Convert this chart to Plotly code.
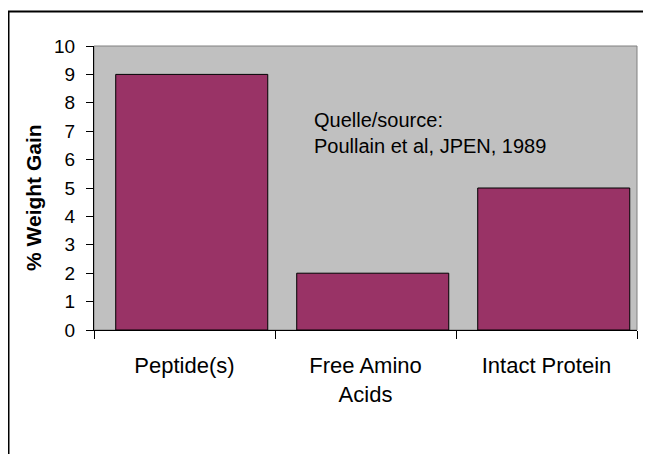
import plotly.graph_objects as go

categories = ["Peptide(s)", "Free Amino Acids", "Intact Protein"]
tick_labels = ["Peptide(s)", "Free Amino<br>Acids", "Intact Protein"]
weight_gain = [9, 2, 5]
y_title = "% Weight Gain"
source_note = "Quelle/source:<br>Poullain et al, JPEN, 1989"

# page has an 8px body margin; figure sized to fit the window
OFF = 8
W, H = 651 - OFF, 454 - OFF
L, R, T, B = 94 - OFF, 14, 46 - OFF, 124
pw, ph = W - L - R, H - T - B

def px_x(p):  # reference-image x -> paper
    return (p - OFF - L) / pw

def px_y(p):  # reference-image y -> paper
    return (H - B - (p - OFF)) / ph

fig = go.Figure()
fig.add_trace(go.Bar(
    x=categories, y=weight_gain,
    marker=dict(color="#993366", line=dict(color="black", width=1)),
    width=0.84, offset=-0.38,
))

font = "Liberation Sans, Arial, sans-serif"
fig.update_layout(
    width=W, height=H,
    margin=dict(l=L, r=R, t=T, b=B, autoexpand=False),
    paper_bgcolor="white", plot_bgcolor="#C0C0C0",
    showlegend=False,
    font=dict(family=font, color="black"),
    xaxis=dict(
        type="category", tickmode="array", tickvals=categories, ticktext=tick_labels,
        tickson="boundaries", ticks="outside", ticklen=8, tickcolor="black", tickwidth=1,
        showline=True, linecolor="black", linewidth=1, showgrid=False,
        tickfont=dict(size=22, family=font), ticklabelstandoff=16, automargin=False,
    ),
    yaxis=dict(
        range=[0, 10], dtick=1, ticks="outside", ticklen=7, tickcolor="black",
        showline=True, linecolor="black", linewidth=1, showgrid=False, zeroline=False,
        tickfont=dict(size=19, family=font), ticklabelstandoff=7, automargin=False,
    ),
    shapes=[
        dict(type="rect", xref="paper", yref="paper", x0=0, x1=1, y0=0, y1=1,
             line=dict(color="#808080", width=1), layer="below"),
        dict(type="line", xref="paper", yref="paper", x0=px_x(8), x1=px_x(651),
             y0=px_y(11.5), y1=px_y(11.5), line=dict(color="black", width=2)),
        dict(type="line", xref="paper", yref="paper", x0=px_x(8.5), x1=px_x(8.5),
             y0=px_y(11), y1=px_y(454), line=dict(color="black", width=2)),
    ],
    annotations=[
        dict(text="<b>" + y_title + "</b>", xref="paper", yref="paper",
             x=px_x(33), y=px_y(198), xanchor="center", yanchor="middle",
             textangle=-90, showarrow=False, font=dict(size=21, family=font)),
        dict(text=source_note, xref="paper", yref="paper", x=px_x(312), y=px_y(107),
             xanchor="left", yanchor="top", showarrow=False, align="left",
             font=dict(size=20, family=font)),
    ],
)

fig.write_html("out.html", config={"displayModeBar": False})
